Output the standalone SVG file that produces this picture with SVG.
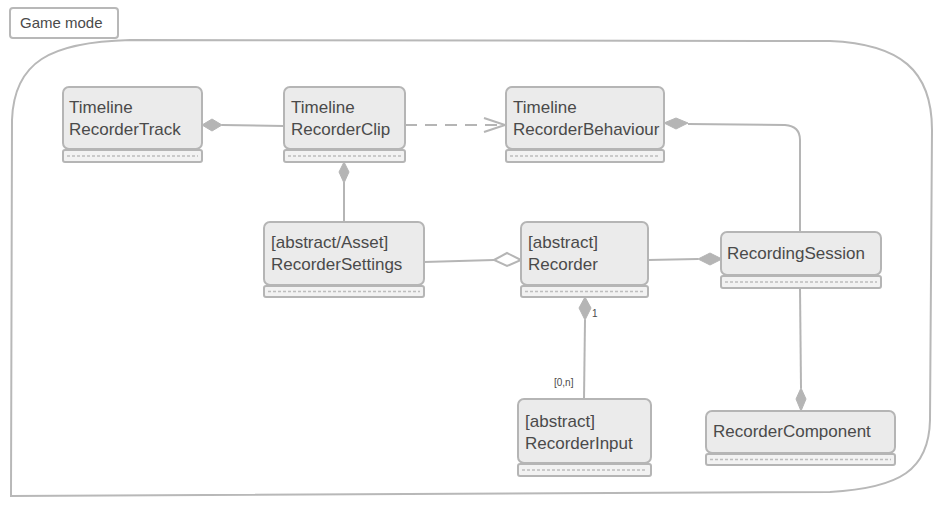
<svg xmlns="http://www.w3.org/2000/svg" width="949" height="511" viewBox="0 0 949 511">
<style>
.frame{fill:none;stroke:#b8b8b8;stroke-width:2}
.box{fill:#ebebeb;stroke:#b5b5b5;stroke-width:2}
.comp{fill:#f2f2f2;stroke:#b5b5b5;stroke-width:2}
.dash{stroke:#bdbdbd;stroke-width:1.5;stroke-dasharray:3,2}
.t{font-family:"Liberation Sans",Arial,sans-serif;font-size:17px;fill:#4a4a4a}
.s{font-family:"Liberation Sans",Arial,sans-serif;font-size:10px;fill:#4a4a4a}
.ln{fill:none;stroke:#b5b5b5;stroke-width:2}
.fd{fill:#b5b5b5;stroke:#b5b5b5;stroke-width:1}
.od{fill:#ffffff;stroke:#b5b5b5;stroke-width:2}
</style>
<g id="frame">
<path class="frame" d="M11,496 L12,120 C14,62 50,42 130,40 L830,41 C900,44 932,70 932,130 L930,420 C929,470 900,488 830,492 Z"/>
<rect class="frame" x="10" y="8" width="108" height="30" rx="3"/>
<text class="t" x="20" y="28" style="font-size:15px">Game mode</text>
</g>
<g id="connectors">
<line class="ln" x1="222" y1="125" x2="284" y2="126"/>
<path class="fd" d="M202,125 L212,119 L222,125 L212,131 Z"/>
<line class="ln" x1="405" y1="125" x2="504" y2="125" style="stroke-dasharray:12,8"/>
<path class="ln" d="M484,118 L505,125 L484,132"/>
<path class="ln" d="M688,124 L785,125 Q800,126 800,140 L800,232"/>
<path class="fd" d="M664,123 L676,118 L688,123 L676,129 Z"/>
<line class="ln" x1="344" y1="182" x2="344" y2="222"/>
<path class="fd" d="M344,162 L349,172 L344,183 L339,172 Z"/>
<line class="ln" x1="424" y1="262" x2="494" y2="260"/>
<path class="od" d="M494,260 L507,253 L521,260 L507,266 Z"/>
<line class="ln" x1="648" y1="260" x2="698" y2="259"/>
<path class="fd" d="M698,259 L710,253 L722,259 L710,265 Z"/>
<line class="ln" x1="585" y1="320" x2="584" y2="399"/>
<path class="fd" d="M585,297 L591,308 L585,320 L579,308 Z"/>
<text class="s" x="592" y="317">1</text>
<text class="s" x="554" y="386">[0,n]</text>
<line class="ln" x1="800" y1="288" x2="801" y2="388"/>
<path class="fd" d="M801,388 L806,399 L801,411 L796,399 Z"/>
</g>
<g id="TimelineRecorderTrack">
<rect class="box" x="63" y="87" width="139" height="62" rx="6"/>
<rect class="comp" x="63" y="150" width="139" height="12" rx="2"/>
<line class="dash" x1="67" y1="156" x2="198" y2="156"/>
<text class="t" x="69" y="113">Timeline</text>
<text class="t" x="69" y="135">RecorderTrack</text>
</g>
<g id="TimelineRecorderClip">
<rect class="box" x="284" y="87" width="121" height="62" rx="6"/>
<rect class="comp" x="284" y="150" width="121" height="12" rx="2"/>
<line class="dash" x1="288" y1="156" x2="401" y2="156"/>
<text class="t" x="291" y="113">Timeline</text>
<text class="t" x="291" y="135">RecorderClip</text>
</g>
<g id="TimelineRecorderBehaviour">
<rect class="box" x="506" y="87" width="158" height="62" rx="6"/>
<rect class="comp" x="506" y="150" width="158" height="12" rx="2"/>
<line class="dash" x1="510" y1="156" x2="660" y2="156"/>
<text class="t" x="513" y="113">Timeline</text>
<text class="t" x="513" y="135">RecorderBehaviour</text>
</g>
<g id="RecorderSettings">
<rect class="box" x="264" y="222" width="160" height="63" rx="6"/>
<rect class="comp" x="264" y="286" width="160" height="11" rx="2"/>
<line class="dash" x1="268" y1="291.5" x2="420" y2="291.5"/>
<text class="t" x="271" y="248">[abstract/Asset]</text>
<text class="t" x="271" y="270">RecorderSettings</text>
</g>
<g id="Recorder">
<rect class="box" x="521" y="222" width="127" height="63" rx="6"/>
<rect class="comp" x="521" y="286" width="127" height="11" rx="2"/>
<line class="dash" x1="525" y1="291.5" x2="644" y2="291.5"/>
<text class="t" x="528" y="248">[abstract]</text>
<text class="t" x="528" y="270">Recorder</text>
</g>
<g id="RecordingSession">
<rect class="box" x="721" y="232" width="160" height="43" rx="6"/>
<rect class="comp" x="721" y="276" width="160" height="12" rx="2"/>
<line class="dash" x1="725" y1="282" x2="877" y2="282"/>
<text class="t" x="727" y="259">RecordingSession</text>
</g>
<g id="RecorderInput">
<rect class="box" x="518" y="399" width="133" height="64" rx="6"/>
<rect class="comp" x="518" y="464" width="133" height="12" rx="2"/>
<line class="dash" x1="522" y1="470" x2="647" y2="470"/>
<text class="t" x="525" y="427">[abstract]</text>
<text class="t" x="525" y="449">RecorderInput</text>
</g>
<g id="RecorderComponent">
<rect class="box" x="706" y="411" width="189" height="42" rx="6"/>
<rect class="comp" x="706" y="454" width="189" height="11" rx="2"/>
<line class="dash" x1="710" y1="459.5" x2="891" y2="459.5"/>
<text class="t" x="713" y="437">RecorderComponent</text>
</g>
</svg>
